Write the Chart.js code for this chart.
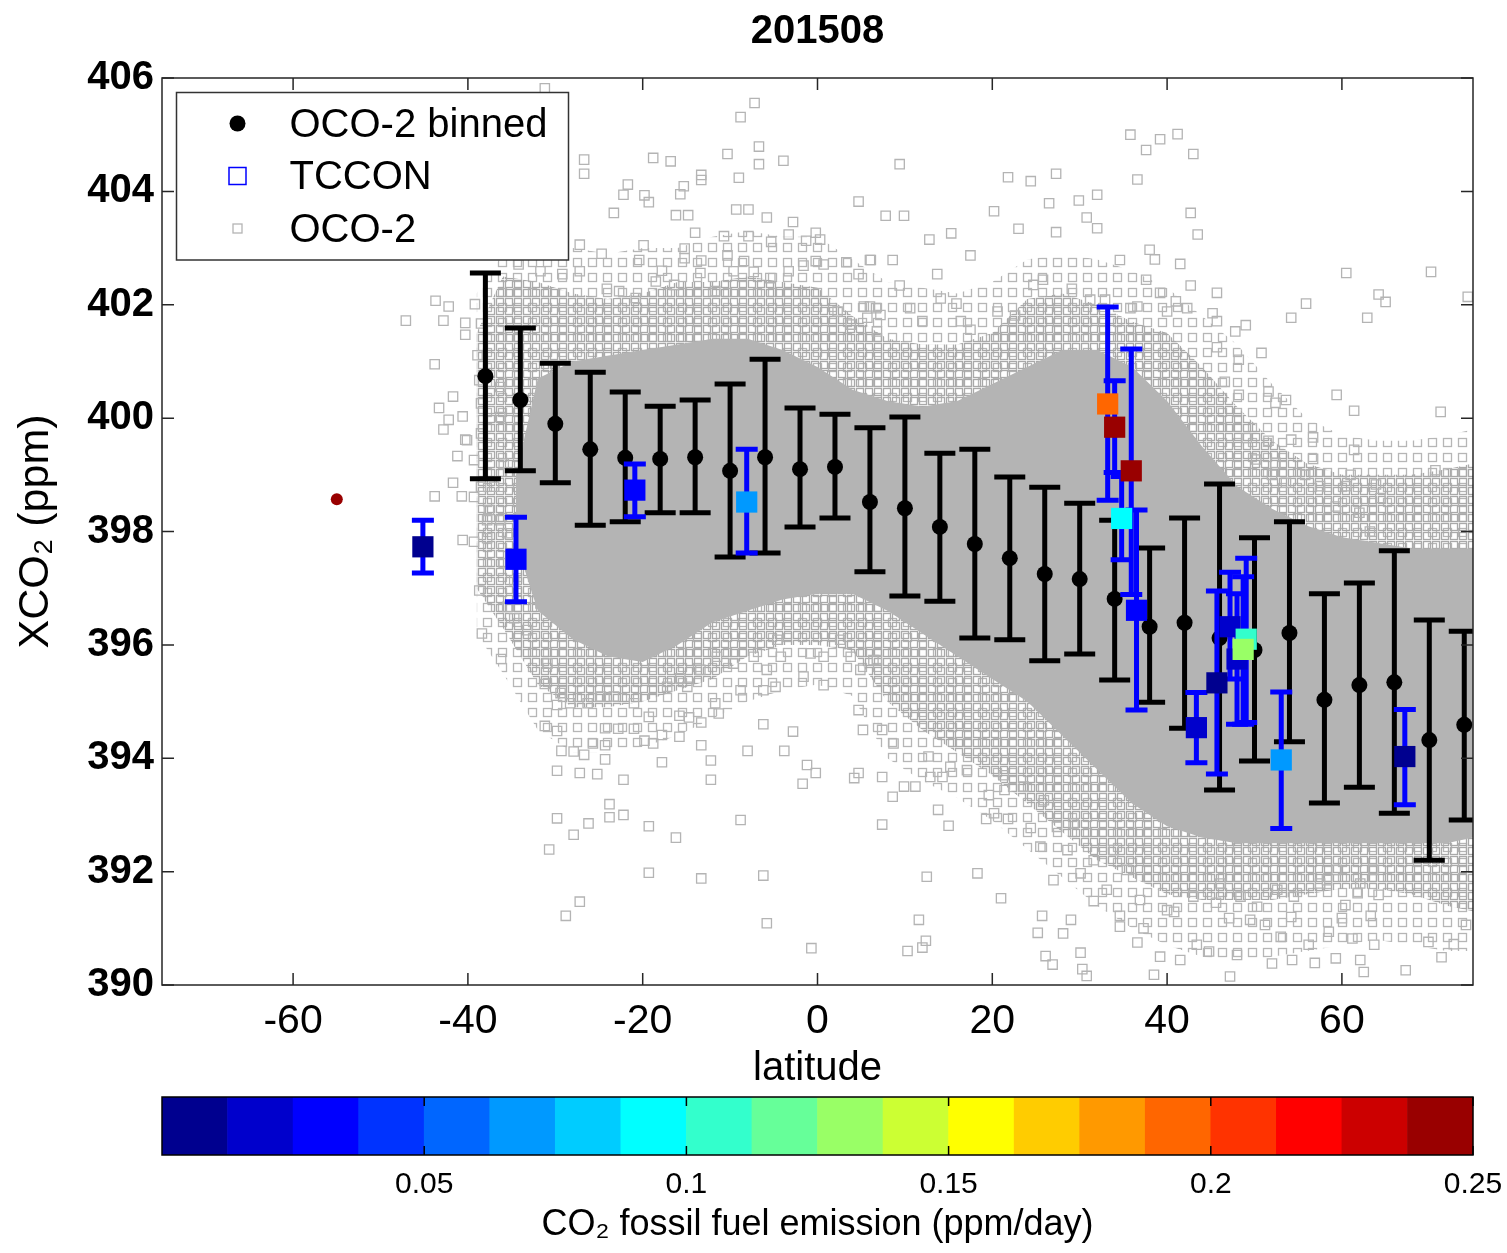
<!DOCTYPE html>
<html>
<head>
<meta charset="utf-8">
<script src="https://cdn.jsdelivr.net/npm/chart.js@4.4.0/dist/chart.umd.min.js"></script>
<style>
  body { margin: 0; background: #fff; width: 1507px; height: 1253px; overflow: hidden; }
  #main { position: absolute; left: 0; top: 0; }
  #cbar { position: absolute; left: 0; top: 1090px; }
</style>
</head>
<body>
<canvas id="main" width="1507" height="1090"></canvas>
<canvas id="cbar" width="1507" height="163"></canvas>
<script>

// ---- OCO-2 binned means (4 deg bins) with +/- spread
var binLat  = [-38,-34,-30,-26,-22,-18,-14,-10,-6,-2,2,6,10,14,18,22,26,30,34,38,42,46,50,54,58,62,66,70,74];
var binXco2 = [400.74,400.32,399.90,399.45,399.30,399.28,399.31,399.07,399.31,399.10,399.14,398.52,398.41,398.08,397.78,397.53,397.25,397.16,396.81,396.32,396.39,396.12,395.91,396.21,395.03,395.29,395.34,394.32,394.59];
var binHi   = [402.56,401.59,400.97,400.81,400.46,400.21,400.32,400.60,401.04,400.18,400.07,399.83,400.02,399.38,399.45,398.96,398.78,398.50,398.20,397.71,398.24,398.84,397.89,398.17,396.90,397.09,397.66,396.44,396.24];
var binLo   = [398.93,399.07,398.86,398.11,398.17,398.33,398.33,397.55,397.62,398.08,398.24,397.29,396.86,396.77,396.12,396.09,395.72,395.84,395.38,394.99,394.53,393.44,393.95,394.29,393.21,393.49,393.03,392.20,392.91];

// ---- TCCON sites
var tcLat  = [-45.15,-34.5,-20.9,-8.1,33.2,34.0,34.8,35.9,36.5,43.35,45.7,47.2,48.0,49.05,48.7,53.06,67.2];
var tcXco2 = [397.73,397.51,398.73,398.52,400.25,399.84,398.23,399.07,396.61,394.54,395.33,396.32,395.75,396.10,395.92,393.97,394.03];
var tcHi   = [398.20,398.25,399.19,399.45,401.96,400.66,398.97,401.22,398.38,395.16,396.95,397.28,396.90,397.53,397.20,395.17,394.86];
var tcLo   = [397.27,396.76,398.26,397.62,398.55,399.04,397.50,396.89,394.85,393.92,393.72,395.40,394.60,394.63,394.60,392.76,393.18];
var tcEmis = [0.006,0.031,0.031,0.069,0.194,0.244,0.094,0.244,0.031,0.019,0.006,0.019,0.019,0.106,0.131,0.069,0.006];
// site without error estimate
var tcOnlyLat = [-55.0];
var tcOnlyXco2 = [398.57];
var tcOnlyEmis = [0.245];

// ---- OCO-2 soundings: solid core of the cloud, dense mesh, sparse outer mesh, and scattered soundings
var coreLat = [-34.5,-32,-28,-24,-20,-16,-12,-8,-4,0,4,8,12,16,20,24,28,32,36,40,44,48,52,56,60,64,68,72,75];
var coreTop = [399.0,400.7,401.0,401.1,401.2,401.3,401.4,401.4,401.2,400.9,400.5,400.3,400.2,400.3,400.6,400.9,401.2,401.2,400.9,400.3,399.5,398.8,398.4,398.1,397.9,397.8,397.7,397.7,397.7];
var coreBot = [397.8,396.6,396.1,395.8,395.7,396.0,396.4,396.6,396.8,396.9,396.9,396.6,396.2,395.8,395.4,395.0,394.4,393.8,393.2,392.8,392.6,392.5,392.5,392.5,392.5,392.5,392.5,392.5,392.6];
var meshLat = [-39,-36,-32,-28,-24,-20,-16,-12,-8,-4,0,4,8,12,16,20,24,28,32,36,40,44,48,52,56,60,64,68,72,75];
var meshTop = [401.5,402.5,402.4,402.2,402.1,402.2,402.4,402.4,402.5,402.4,402.3,401.8,401.4,401.3,401.3,401.5,402.1,402.2,402.0,401.7,401.5,400.9,400.2,399.6,399.2,399.0,399.0,399.0,399.1,399.2];
var meshBot = [397.0,396.3,395.3,394.9,394.9,395.0,395.2,395.4,395.8,396.0,396.0,395.9,395.0,394.5,394.1,393.7,393.2,392.7,392.2,391.9,391.6,391.5,391.5,391.5,391.6,391.7,391.7,391.6,391.4,391.3];
var outerTop = [402.2,402.9,403.0,403.0,402.9,403.0,403.0,403.2,403.3,403.2,403.2,402.8,402.4,402.3,402.2,402.4,402.8,402.9,402.8,402.6,402.3,401.8,401.3,400.6,400.0,399.7,399.6,399.6,399.7,399.8];
var outerBot = [396.2,395.5,394.5,394.1,394.1,394.2,394.4,394.7,395.0,395.2,395.3,395.1,394.0,393.6,393.3,392.9,392.4,391.9,391.4,391.0,390.7,390.5,390.4,390.5,390.6,390.7,390.8,390.7,390.6,390.6];

var ocoLat = [
  -31.2,-7.2,-8.8,-6.7,-10.3,-6.7,-3.9,-18.8,-16.8,-26.7,-26.7,-13.3,-13.3,-9.0,-21.7,-22.2,-15.3,-15.7,-19.8,-19.3,
  4.7,-23.3,-16.2,-14.8,-9.3,-7.9,-5.8,-2.8,-27.2,-24.7,-19.9,-20.4,-15.2,-15.2,-14.0,-10.7,-7.9,-5.3,-3.3,-0.2,
  0.3,-1.3,-10.3,-13.3,-8.4,-0.2,3.3,6.1,4.7,-27.2,-29.2,-43.7,-42.2,-47.1,-42.8,-39.2,-43.8,-41.7,-43.3,-42.2,
  -40.6,-42.8,-40.3,-41.2,-41.7,-43.8,-40.7,5.3,6.7,-40.3,-40.3,-40.6,-39.3,-37.8,-38.7,-38.4,-34.7,-36.2,-31.2,-31.2,
  -29.8,-29.8,-29.3,-29.8,-27.2,-25.2,-27.9,-26.7,-25.7,-24.3,-24.3,-24.3,-22.8,-21.0,-19.8,-17.8,-18.8,-15.8,-15.8,-14.7,
  -13.3,-13.3,-12.2,-17.8,-22.2,-12.2,-6.2,-2.8,-3.8,-8.0,-1.2,-0.2,-1.7,4.7,5.2,4.7,4.2,-8.8,-19.3,-16.2,
  -23.8,-23.8,-22.2,-26.2,-27.9,-29.8,-30.7,-19.3,-13.3,-6.2,-27.2,-28.8,-5.8,-0.7,9.4,35.8,37.6,39.2,43.0,36.6,
  21.8,24.4,27.3,26.5,29.9,32.0,30.8,32.0,42.7,43.5,20.2,23.0,27.3,15.3,12.8,7.8,9.9,6.0,8.6,13.7,
  9.4,17.5,34.6,38.0,41.5,38.6,37.6,42.7,39.2,45.7,60.5,55.9,54.2,64.2,49.0,47.8,50.8,48.2,45.7,46.6,
  48.2,51.6,53.6,52.4,59.4,61.4,61.4,61.0,56.7,54.2,51.6,49.1,56.7,52.4,50.2,52.0,53.6,57.5,60.5,63.9,
  55.8,62.0,59.3,63.2,64.4,74.4,71.3,70.7,70.2,65.0,62.9,41.2,12.5,18.3,21.0,11.6,12.4,12.0,10.3,7.4,
  15.0,13.8,19.3,20.2,21.8,24.4,25.7,25.2,28.1,29.0,26.1,26.9,30.1,30.3,30.8,31.6,34.6,34.6,36.6,37.3,
  38.5,39.2,40.8,41.5,43.4,44.8,45.6,47.1,48.0,47.2,49.5,51.2,52.0,53.0,54.2,54.3,56.2,56.9,58.5,59.3,
  60.0,61.2,62.1,62.5,63.3,63.7,61.8,58.3,60.4,64.2,71.4,74.2,72.8,69.9,67.3,-34.2,-31.7,-24.1,-22.7,-20.8,
  -18.5,-17.8,-16.4,-13.4,-11.7,-9.6,-7.3,-5.4,-3.3,-1.6,0.7,2.3,3.8,5.7,6.8,6.0,7.2,10.6,12.0,14.1,
  15.9,17.5,16.4,20.6,22.6,24.7,25.8,29.1,31.2,32.9,35.8,36.6,40.0,41.0,42.3,45.2,45.7,6.4,7.4,8.7,
  7.4,8.6,9.9,11.2,12.9,14.3,12.7,15.2,17.1,19.6,21.4,21.3,23.6,25.9,27.4,29.3,25.5,28.6,31.6,33.9,
  35.4,27.0,30.1,33.1,36.9,40.0,43.0,46.1,48.4,50.3,52.6,54.5,57.5,59.4,62.1,63.6,-30.9,-29.4,-28.3,-26.3,
  -24.8,-23.3,-21.0,-19.3,-17.2,-14.9,-13.4,-11.5,-9.6,-7.3,-5.8,-4.2,-4.6,-0.8,0.7,2.6,3.8,4.9,6.8,-1.6,
  0.7,-8.8,-6.2,-4.8,-11.7,-11.3,-15.7,-40.1,-39.3,-38.5,-38.5,-38.7,-38.9,-38.5,-36.3,-36.3,-35.9,-37.0,-38.5,-39.3,
  -37.6,-37.8,-36.3,-35.5,-35.9,-34.7,-35.5,-33.2,-31.7
];
var ocoXco2 = [
  405.82,405.56,405.31,404.79,404.66,404.48,404.54,404.59,404.53,404.56,404.31,404.29,404.20,404.24,404.12,403.94,404.09,403.95,403.93,403.81,
  403.82,403.62,403.58,403.58,403.68,403.68,403.54,403.46,403.06,402.90,403.05,402.79,402.99,402.82,403.27,403.21,403.21,403.11,403.24,403.27,
  403.15,403.13,402.87,402.78,402.77,402.77,402.75,402.79,402.54,402.59,402.54,402.07,401.97,401.72,401.72,402.01,400.95,400.38,400.18,399.97,
  400.03,399.80,399.62,399.33,398.86,398.62,398.62,401.97,401.94,401.68,401.47,397.85,397.82,397.88,396.96,396.20,396.47,395.75,395.31,394.57,
  394.94,394.48,394.13,393.78,393.74,393.72,394.12,394.06,394.26,394.23,393.98,394.53,394.52,394.52,394.31,394.41,394.26,394.38,394.75,394.72,
  394.63,394.23,393.96,393.93,393.62,393.62,394.60,394.47,394.13,394.13,393.88,393.74,393.55,394.85,394.50,393.74,393.65,392.91,392.80,392.60,
  393.19,392.96,393.00,392.85,392.65,392.94,392.39,391.98,391.88,391.93,391.47,391.22,391.09,390.65,404.48,405.00,404.73,404.92,404.66,404.21,
  404.25,404.18,404.31,403.79,403.84,403.94,403.54,403.35,403.62,403.24,403.65,403.34,403.28,403.26,403.15,403.57,403.57,402.79,402.79,402.54,
  402.34,402.87,402.79,402.97,402.72,402.80,402.44,402.34,402.21,402.21,402.56,402.02,401.77,402.18,401.64,401.53,401.15,401.03,401.25,400.64,
  400.41,400.47,400.32,400.27,400.41,400.13,399.44,399.00,399.66,399.62,399.60,399.65,399.28,399.21,399.27,399.00,398.86,398.80,398.80,398.83,
  399.00,398.33,398.44,398.00,398.59,402.14,400.11,399.08,402.58,402.05,401.77,405.01,391.91,391.97,391.53,391.15,390.78,390.66,390.60,392.83,
  392.81,393.09,392.93,393.03,392.93,392.77,391.22,390.92,390.91,391.15,390.51,390.36,390.57,390.28,390.16,391.48,391.22,391.03,390.75,391.00,
  390.18,390.50,391.29,390.44,390.71,390.59,391.45,391.18,390.53,390.15,391.15,391.06,390.38,390.85,391.20,390.44,390.71,390.39,390.94,390.47,
  391.18,390.82,390.44,390.23,391.22,390.71,391.62,391.85,391.41,391.59,390.49,391.06,390.72,390.76,390.26,402.71,402.59,402.28,402.24,402.12,
  402.41,402.60,402.35,402.56,402.24,402.59,402.58,402.47,402.59,402.69,402.71,401.88,401.65,401.77,401.53,401.97,401.82,401.94,401.71,402.11,
  402.02,401.56,401.71,401.88,401.81,402.35,402.44,402.28,402.09,402.09,401.94,401.97,401.88,402.06,401.94,401.85,401.71,395.73,394.50,394.26,
  393.67,393.32,393.50,393.50,393.67,393.67,394.03,393.85,393.79,393.35,393.44,393.70,393.50,393.26,392.79,392.85,392.44,392.38,392.20,392.38,
  392.03,391.85,391.97,391.68,391.50,391.32,391.56,391.79,391.56,391.38,391.68,391.56,391.79,392.03,391.79,392.03,395.67,395.15,394.97,394.97,
  395.09,395.09,394.97,394.73,395.26,395.26,395.56,395.79,395.67,395.79,395.56,395.79,396.09,395.85,395.79,396.09,395.79,395.56,395.73,395.44,
  395.29,395.20,395.20,395.26,394.97,394.79,395.41,399.61,399.26,399.73,400.26,400.67,401.11,401.67,400.55,400.02,399.20,398.79,398.79,398.61,
  398.38,398.20,398.20,397.97,397.44,397.14,396.67,396.26,396.73
];

// ---- axes and colour bar
var xTicks = [-60,-40,-20,0,20,40,60];
var yTicks = [390,392,394,396,398,400,402,404,406];
var emisMin = 0, emisMax = 0.25;
var jetColors = ['#00008f','#0000cc','#0000ff','#0033ff','#0066ff','#0099ff','#00ccff','#00ffff','#33ffcc','#66ff99',
                 '#99ff66','#ccff33','#ffff00','#ffcc00','#ff9900','#ff6600','#ff3300','#ff0000','#cc0000','#990000'];
var cbTicks = [0.05,0.1,0.15,0.2,0.25];

Chart.defaults.font.family = "'Liberation Sans', Arial, sans-serif";
Chart.defaults.color = '#000';

var binW = (emisMax - emisMin) / jetColors.length;
function emisColor(e) {
  var i = Math.floor((e - emisMin) / binW);
  return jetColors[Math.max(0, Math.min(jetColors.length - 1, i))];
}
function pts(xs, ys) {
  return xs.map(function(x, i) { return {x: x, y: ys[i]}; });
}

// textures for the bands of overlapping sounding squares
var mainCtx = document.getElementById('main').getContext('2d');
function squareTexture(tile, squares, side, color) {
  var c = document.createElement('canvas');
  c.width = tile; c.height = tile;
  var g = c.getContext('2d');
  g.strokeStyle = color;
  g.lineWidth = 1.3;
  squares.forEach(function(s) {
    [-tile, 0, tile].forEach(function(dx) {
      [-tile, 0, tile].forEach(function(dy) {
        g.strokeRect(s[0] + dx + 0.5, s[1] + dy + 0.5, side, side);
      });
    });
  });
  return mainCtx.createPattern(c, 'repeat');
}
var meshFill = squareTexture(9, [[1, 1]], 7, '#a9a9a9');
var outerFill = squareTexture(15, [[3, 3]], 8, '#b6b6b6');

// error bars are drawn just before the markers of their dataset
var errorBars = {
  id: 'errorBars',
  beforeDatasetDraw: function(chart, args) {
    var ds = chart.data.datasets[args.index];
    if (!ds.errLo) return;
    var ctx = chart.ctx, xs = chart.scales.x, ys = chart.scales.y, a = chart.chartArea;
    ctx.save();
    ctx.beginPath();
    ctx.rect(a.left, a.top, a.right - a.left, a.bottom - a.top);
    ctx.clip();
    ctx.strokeStyle = ds.errColor;
    ctx.lineWidth = ds.errWidth;
    ds.data.forEach(function(p, i) {
      var px = xs.getPixelForValue(p.x);
      var lo = ys.getPixelForValue(ds.errLo[i]);
      var hi = ys.getPixelForValue(ds.errHi[i]);
      var c = ds.errCap / 2;
      ctx.beginPath();
      ctx.moveTo(px, lo); ctx.lineTo(px, hi);
      ctx.moveTo(px - c, lo); ctx.lineTo(px + c, lo);
      ctx.moveTo(px - c, hi); ctx.lineTo(px + c, hi);
      ctx.stroke();
    });
    ctx.restore();
  }
};

// box with inward ticks on all sides
var frame = {
  id: 'frame',
  afterDatasetsDraw: function(chart, args, opts) {
    var ctx = chart.ctx, a = chart.chartArea, L = opts.tickLength;
    ctx.save();
    ctx.strokeStyle = opts.color;
    ctx.lineWidth = opts.lineWidth;
    ctx.strokeRect(a.left, a.top, a.right - a.left, a.bottom - a.top);
    ctx.beginPath();
    var xs = chart.scales.x;
    xs.ticks.forEach(function(t) {
      var px = xs.getPixelForValue(t.value);
      ctx.moveTo(px, a.bottom); ctx.lineTo(px, a.bottom - L);
      ctx.moveTo(px, a.top); ctx.lineTo(px, a.top + L);
    });
    var ys = chart.scales.y;
    if (ys.options.display) {
      ys.ticks.forEach(function(t) {
        var py = ys.getPixelForValue(t.value);
        ctx.moveTo(a.left, py); ctx.lineTo(a.left + L, py);
        ctx.moveTo(a.right, py); ctx.lineTo(a.right - L, py);
      });
    }
    ctx.stroke();
    ctx.restore();
  }
};

// legend box inside the axes
var boxLegend = {
  id: 'boxLegend',
  afterDraw: function(chart, args, opts) {
    var ctx = chart.ctx;
    ctx.save();
    ctx.fillStyle = '#fff';
    ctx.fillRect(opts.left, opts.top, opts.width, opts.height);
    ctx.strokeStyle = '#333';
    ctx.lineWidth = 1.5;
    ctx.strokeRect(opts.left, opts.top, opts.width, opts.height);
    ctx.font = '40px ' + Chart.defaults.font.family;
    ctx.textBaseline = 'middle';
    ctx.fillStyle = '#000';
    opts.items.forEach(function(it, i) {
      var y = opts.top + opts.firstRow + i * opts.rowStep;
      var mx = opts.left + opts.markerX;
      ctx.save();
      if (it.marker === 'dot') {
        ctx.fillStyle = '#000';
        ctx.beginPath(); ctx.arc(mx, y, 8, 0, Math.PI * 2); ctx.fill();
      } else {
        ctx.strokeStyle = it.color;
        ctx.lineWidth = it.lw;
        ctx.strokeRect(mx - it.size / 2, y - it.size / 2, it.size, it.size);
      }
      ctx.restore();
      ctx.fillText(it.text, opts.left + opts.textX, y + 2);
    });
    ctx.restore();
  }
};

function band(label, xs, ys, fill, bg) {
  return { type: 'line', label: label, data: pts(xs, ys), fill: fill,
           backgroundColor: bg || 'rgba(0,0,0,0)', borderColor: 'rgba(0,0,0,0)', borderWidth: 1, pointRadius: 0 };
}

new Chart(document.getElementById('main'), {
  type: 'scatter',
  data: {
    datasets: [
      { label: 'TCCON', data: pts(tcLat, tcXco2), pointStyle: 'rect', pointRadius: 15,
        backgroundColor: tcEmis.map(emisColor), borderWidth: 0,
        errLo: tcLo, errHi: tcHi, errColor: '#0000ff', errWidth: 5, errCap: 22 },
      { label: 'TCCON no error', data: pts(tcOnlyLat, tcOnlyXco2), pointStyle: 'circle', pointRadius: 6,
        backgroundColor: tcOnlyEmis.map(emisColor), borderWidth: 0 },
      { label: 'OCO-2 binned', data: pts(binLat, binXco2), pointStyle: 'circle', pointRadius: 8,
        backgroundColor: '#000', borderWidth: 0,
        errLo: binLo, errHi: binHi, errColor: '#000', errWidth: 5, errCap: 31 },
      { label: 'OCO-2', data: pts(ocoLat, ocoXco2), pointStyle: 'rect', pointRadius: 6.6,
        backgroundColor: 'rgba(0,0,0,0)', borderColor: '#b4b4b4', borderWidth: 1.3 },
      band('core top', coreLat, coreTop, '+1', '#b4b4b4'),
      band('core bottom', coreLat, coreBot, false),
      band('mesh top', meshLat, meshTop, '+1', meshFill),
      band('mesh bottom', meshLat, meshBot, false),
      band('outer top', meshLat, outerTop, '+1', outerFill),
      band('outer bottom', meshLat, outerBot, false)
    ]
  },
  options: {
    responsive: false,
    animation: false,
    events: [],
    layout: { padding: { left: 0, right: 34, top: 0, bottom: 0 } },
    scales: {
      x: {
        type: 'linear', min: -75, max: 75,
        grid: { display: false, drawTicks: false }, border: { display: false },
        afterBuildTicks: function(s) { s.ticks = xTicks.map(function(v) { return {value: v}; }); },
        afterFit: function(s) { s.height = 105; s.paddingLeft = 0; s.paddingRight = 0; },
        ticks: { font: { size: 41 }, padding: 12, color: '#000' },
        title: { display: true, text: 'latitude', font: { size: 40, lineHeight: 1.05 }, padding: { top: 0, bottom: 0 }, color: '#000' }
      },
      y: {
        type: 'linear', min: 390, max: 406,
        grid: { display: false, drawTicks: false }, border: { display: false },
        afterBuildTicks: function(s) { s.ticks = yTicks.map(function(v) { return {value: v}; }); },
        afterFit: function(s) { s.width = 162; },
        ticks: { font: { size: 40, weight: 'bold' }, padding: 8, color: '#000' },
        title: { display: true, text: 'XCO\u2082 (ppm)', font: { size: 43 }, padding: { top: 10, bottom: 0 }, color: '#000' }
      }
    },
    plugins: {
      legend: { display: false },
      tooltip: { enabled: false },
      title: { display: true, fullSize: false, text: '201508', font: { size: 40, weight: 'bold' },
               padding: { top: 8, bottom: 22 }, color: '#000' },
      frame: { tickLength: 12, color: '#262626', lineWidth: 1.5 },
      boxLegend: {
        left: 176.5, top: 92.5, width: 392, height: 167.5,
        markerX: 61, textX: 113, firstRow: 31, rowStep: 52.5,
        items: [
          { marker: 'dot', text: 'OCO-2 binned' },
          { marker: 'square', text: 'TCCON', color: '#0000ff', size: 17, lw: 1.5 },
          { marker: 'square', text: 'OCO-2', color: '#b4b4b4', size: 9, lw: 1.3 }
        ]
      }
    }
  },
  plugins: [errorBars, frame, boxLegend]
});

// ---- colour bar
var cbBars = jetColors.map(function(c, i) {
  return { x: [emisMin + i * binW, emisMin + (i + 1) * binW], y: 'cb' };
});

new Chart(document.getElementById('cbar'), {
  type: 'bar',
  data: {
    labels: ['cb'],
    datasets: [{ data: cbBars, backgroundColor: jetColors, borderWidth: 0,
                 barPercentage: 1, categoryPercentage: 1 }]
  },
  options: {
    indexAxis: 'y',
    responsive: false,
    animation: false,
    events: [],
    layout: { padding: { left: 162, right: 34, top: 7, bottom: 0 } },
    scales: {
      x: {
        type: 'linear', min: emisMin, max: emisMax,
        grid: { display: false, drawTicks: false }, border: { display: false },
        afterBuildTicks: function(s) { s.ticks = cbTicks.map(function(v) { return {value: v}; }); },
        afterFit: function(s) { s.height = 98; s.paddingLeft = 0; s.paddingRight = 0; },
        ticks: { font: { size: 30 }, padding: 12, color: '#000', callback: function(v) { return String(v); } },
        title: { display: true, text: 'CO\u2082 fossil fuel emission (ppm/day)', font: { size: 36 }, padding: { top: 0, bottom: 6 }, color: '#000' }
      },
      y: { display: false }
    },
    plugins: {
      legend: { display: false },
      tooltip: { enabled: false },
      frame: { tickLength: 9, color: '#000', lineWidth: 1.5 }
    }
  },
  plugins: [frame]
});
</script>
</body>
</html>
